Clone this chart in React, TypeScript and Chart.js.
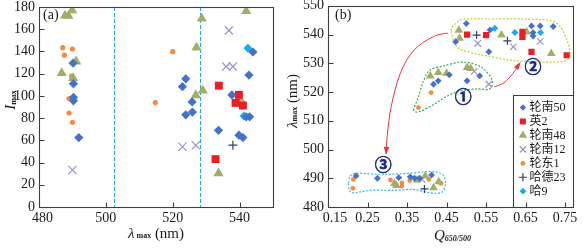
import React, { useEffect, useRef } from 'react';
import { Chart, registerables } from 'chart.js';
Chart.register(...registerables);

type Pt = [number, number];

// ---------------- Panel (a): λmax (nm) vs Imax ----------------
const A_X_TICKS = [480, 500, 520, 540];
const A_Y_TICKS = [0, 20, 40, 60, 80, 100, 120, 140, 160, 180];
const A_DASHED_X = [502.3, 528.2];

const A_LN50: Pt[] = [[490.2, 129.4], [490.3, 111], [490.3, 98.6], [490.3, 95.6], [491.9, 62.5], [523.9, 115.4], [522.9, 108.3], [525.8, 94.6], [525.9, 85.4], [523.9, 83], [537.7, 100.9], [542.8, 118.7], [544, 139.5], [533.7, 69], [539.8, 64.6], [541, 62.5], [542, 81.2], [543, 81.2]];
const A_Y2: Pt[] = [[533.8, 109.2], [539.8, 100.9], [538.8, 93.7], [541, 91.3], [532.8, 43.1]];
const A_LN48: Pt[] = [[487.8, 172.3], [488.8, 172], [489.9, 177], [491.1, 131], [486.8, 120.5], [490.2, 116], [528.7, 169.6], [527.1, 143.4], [529, 104.7], [526.9, 100.6], [542, 176.4], [540.3, 96.1], [533.7, 30.3]];
const A_LN12: Pt[] = [[490, 33.3], [522.9, 54.2], [526.9, 55.6], [536.8, 158.9], [536, 126.4], [538, 126.4]];
const A_LD1: Pt[] = [[487.1, 143.4], [490, 142.2], [487.6, 136.6], [489.7, 117.8], [489, 97.6], [489, 84.5], [490, 76.2], [514.8, 94], [520, 139.8]];
const A_HD23: Pt[] = [[538, 55.6]];
const A_H9: Pt[] = [[542.5, 142.8], [540.8, 93.7], [541.3, 81.8]];

// ---------------- Panel (b): Q650/500 vs λmax ----------------
const B_X_TICKS = [0.15, 0.25, 0.35, 0.45, 0.55, 0.65, 0.75];
const B_Y_TICKS = [480, 490, 500, 510, 520, 530, 540, 550];

const B_LN50: Pt[] = [[0.5, 543.8], [0.473, 537.5], [0.56, 541.6], [0.557, 534], [0.665, 543], [0.687, 543], [0.72, 542.8], [0.669, 540.7], [0.669, 539.5],
  [0.417, 522.7], [0.429, 523.9], [0.457, 526], [0.502, 523.9], [0.534, 525.6],
  [0.221, 490.8], [0.275, 490], [0.329, 490.2], [0.358, 490.5], [0.369, 490], [0.382, 490], [0.412, 491.1]];
const B_Y2: Pt[] = [[0.502, 540], [0.55, 539.8], [0.642, 540.9], [0.642, 539.2], [0.665, 534], [0.754, 532.8]];
const B_LN48: Pt[] = [[0.481, 541.5], [0.483, 538.7], [0.589, 539.8], [0.653, 540.9], [0.715, 533.4],
  [0.409, 525.6], [0.429, 526.8], [0.45, 526.5], [0.502, 528.5], [0.511, 528.2],
  [0.318, 488.2], [0.323, 487.5], [0.375, 489.4], [0.396, 490.8], [0.417, 486.7], [0.43, 488.8]];
const B_LN12: Pt[] = [[0.529, 536.9], [0.619, 535.7], [0.687, 537.6], [0.52, 527.2], [0.557, 522.7], [0.388, 489.6]];
const B_LD1: Pt[] = [[0.411, 519.8], [0.379, 514.6], [0.214, 489.6], [0.213, 486.5], [0.308, 489.4], [0.337, 488.4], [0.337, 487.3], [0.357, 489.2], [0.405, 489.6], [0.436, 488.2]];
const B_HD23: Pt[] = [[0.526, 539.8], [0.604, 537.8], [0.394, 486.3]];
const B_H9: Pt[] = [[0.572, 542.2], [0.623, 540.7], [0.688, 540.7]];

// group outlines (data coordinates)
const B_GROUP2: Pt[] = [[0.462, 541.3], [0.473, 543.8], [0.494, 545.4], [0.56, 545.4], [0.646, 545.4], [0.714, 544.8], [0.738, 542.6], [0.752, 539], [0.762, 534.9], [0.762, 532.2], [0.745, 530.7], [0.705, 530.4], [0.646, 530.7], [0.604, 531.2], [0.553, 532.6], [0.515, 533.6], [0.477, 535.6]];
const B_GROUP1: Pt[] = [[0.367, 513.6], [0.378, 518], [0.392, 523.9], [0.408, 527.6], [0.443, 529.1], [0.485, 530.4], [0.519, 529.8], [0.546, 527.8], [0.566, 523.9], [0.558, 521], [0.528, 521.1], [0.485, 520.4], [0.452, 518.6], [0.418, 515.7], [0.384, 513.3]];
const B_GROUP3: Pt[] = [[0.202, 488.4], [0.214, 491.6], [0.274, 491.4], [0.341, 491.6], [0.409, 492.3], [0.439, 491.4], [0.447, 488.4], [0.439, 485.2], [0.409, 484.9], [0.367, 486.1], [0.316, 485.8], [0.257, 485.8], [0.214, 484.9], [0.204, 486.1]];
const B_ARROW1: Pt[] = [[0.454, 540.5], [0.417, 539.3], [0.367, 534.5], [0.333, 526.5], [0.31, 515], [0.3, 505], [0.297, 498.5]];
const B_ARROW2: Pt[] = [[0.571, 521.8], [0.595, 523.2], [0.618, 526.5], [0.636, 530.2]];
const B_GROUP_LABELS = ['①', '②', '③'];
const B_GROUP_LABEL_POS: Pt[] = [[0.492, 518.4], [0.669, 528.9], [0.29, 494.8]];

const SERIES_NAMES = ['轮南50', '英2', '轮南48', '轮南12', '轮东1', '哈德23', '哈9'];
const A_SERIES = [A_LN50, A_Y2, A_LN48, A_LN12, A_LD1, A_HD23, A_H9];
const B_SERIES = [B_LN50, B_Y2, B_LN48, B_LN12, B_LD1, B_HD23, B_H9];

// ---------------- styles ----------------
const MARKERS = [
  { style: 'rectRot', color: '#4472C4', line: false },
  { style: 'rect', color: '#EE1C25', line: false },
  { style: 'triangle', color: '#9EAF6A', line: false },
  { style: 'crossRot', color: '#9C8FCC', line: true },
  { style: 'circle', color: '#F58A42', line: false },
  { style: 'cross', color: '#2F3F6F', line: true },
  { style: 'rectRot', color: '#14AEEF', line: false },
];
const A_RADII = [4.6, 5.6, 5.9, 5.8, 2.6, 4.5, 4.5];
const B_RADII = [3.4, 4.4, 5.0, 4.6, 2.4, 4.0, 3.5];
const LEGEND_RADII = [3.2, 4.2, 4.8, 4.4, 2.4, 4.0, 3.4];

const SERIF = '"Liberation Serif", "Times New Roman", serif';
const CJK = '"Liberation Serif", "Noto Sans CJK SC", serif';
const TEXT = '#1a1a1a';
const FRAME = '#3f3f3f';

type Part = { t: string; font: string; dy?: number };

function drawRich(ctx: CanvasRenderingContext2D, parts: Part[], cx: number, baseY: number, rotate: boolean) {
  ctx.save();
  ctx.translate(cx, baseY);
  if (rotate) ctx.rotate(-Math.PI / 2);
  let w = 0;
  for (const p of parts) { ctx.font = p.font; w += ctx.measureText(p.t).width; }
  let x = -w / 2;
  ctx.textBaseline = 'alphabetic';
  ctx.textAlign = 'left';
  ctx.fillStyle = TEXT;
  for (const p of parts) {
    ctx.font = p.font;
    ctx.fillText(p.t, x, p.dy || 0);
    x += ctx.measureText(p.t).width;
  }
  ctx.restore();
}

function drawMarker(ctx: CanvasRenderingContext2D, style: string, x: number, y: number, r: number, color: string, line: boolean) {
  ctx.beginPath();
  switch (style) {
    case 'rectRot':
      ctx.moveTo(x - r, y); ctx.lineTo(x, y - r); ctx.lineTo(x + r, y); ctx.lineTo(x, y + r); ctx.closePath(); break;
    case 'rect': { const s = r * Math.SQRT1_2; ctx.rect(x - s, y - s, 2 * s, 2 * s); break; }
    case 'triangle':
      ctx.moveTo(x, y - r); ctx.lineTo(x + 0.866 * r, y + 0.5 * r); ctx.lineTo(x - 0.866 * r, y + 0.5 * r); ctx.closePath(); break;
    case 'crossRot': { const d = r * Math.SQRT1_2; ctx.moveTo(x - d, y - d); ctx.lineTo(x + d, y + d); ctx.moveTo(x + d, y - d); ctx.lineTo(x - d, y + d); break; }
    case 'cross':
      ctx.moveTo(x - r, y); ctx.lineTo(x + r, y); ctx.moveTo(x, y - r); ctx.lineTo(x, y + r); break;
    default:
      ctx.arc(x, y, r, 0, Math.PI * 2);
  }
  if (line) { ctx.strokeStyle = color; ctx.lineWidth = 1.2; ctx.stroke(); }
  else { ctx.fillStyle = color; ctx.fill(); }
}

function splinePath(ctx: CanvasRenderingContext2D, pts: Pt[], closed: boolean) {
  const n = pts.length;
  const get = (i: number) => (closed ? pts[((i % n) + n) % n] : pts[Math.max(0, Math.min(n - 1, i))]);
  ctx.moveTo(pts[0][0], pts[0][1]);
  const segs = closed ? n : n - 1;
  for (let i = 0; i < segs; i++) {
    const p0 = get(i - 1), p1 = get(i), p2 = get(i + 1), p3 = get(i + 2);
    ctx.bezierCurveTo(
      p1[0] + (p2[0] - p0[0]) / 6, p1[1] + (p2[1] - p0[1]) / 6,
      p2[0] - (p3[0] - p1[0]) / 6, p2[1] - (p3[1] - p1[1]) / 6,
      p2[0], p2[1]);
  }
  if (closed) ctx.closePath();
}

function toPx(chart: any, pts: Pt[]): Pt[] {
  const xs = chart.scales.x, ys = chart.scales.y;
  return pts.map(([x, y]) => [xs.getPixelForValue(x), ys.getPixelForValue(y)] as Pt);
}

function drawFrameAndTicks(chart: any) {
  const ctx: CanvasRenderingContext2D = chart.ctx;
  const { left, right, top, bottom } = chart.chartArea;
  const L = Math.round(left) + 0.5, R = Math.round(right) + 0.5, T = Math.round(top) + 0.5, B = Math.round(bottom) + 0.5;
  ctx.save();
  ctx.strokeStyle = FRAME;
  ctx.lineWidth = 1.1;
  ctx.strokeRect(L, T, R - L, B - T);
  ctx.beginPath();
  for (const t of chart.scales.x.ticks) {
    const px = Math.round(chart.scales.x.getPixelForValue(t.value)) + 0.5;
    ctx.moveTo(px, B); ctx.lineTo(px, B - 5);
  }
  for (const t of chart.scales.y.ticks) {
    const py = Math.round(chart.scales.y.getPixelForValue(t.value)) + 0.5;
    ctx.moveTo(L, py); ctx.lineTo(L + 5, py);
  }
  ctx.stroke();
  ctx.restore();
}

function datasets(series: Pt[][], radii: number[]) {
  return series.map((pts, i) => {
    const m = MARKERS[i];
    return {
      label: SERIES_NAMES[i],
      data: pts.map(([x, y]) => ({ x, y })),
      pointStyle: m.style,
      pointRadius: radii[i],
      pointHoverRadius: radii[i],
      backgroundColor: m.line ? 'rgba(0,0,0,0)' : m.color,
      borderColor: m.color,
      borderWidth: m.line ? 1.2 : 0,
      showLine: false,
    };
  });
}

function axes(xMin: number, xMax: number, xTicks: number[], xLabel: (v: number) => string, yMin: number, yMax: number, yTicks: number[], yWidth: number) {
  const tickFont = { family: SERIF, size: 14 };
  return {
    x: {
      type: 'linear', min: xMin, max: xMax,
      afterBuildTicks: (s: any) => { s.ticks = xTicks.map((v) => ({ value: v })); },
      afterFit: (s: any) => { s.height = 43; s.paddingLeft = 0; s.paddingRight = 0; },
      grid: { display: false, drawTicks: false }, border: { display: false },
      ticks: { font: tickFont, color: TEXT, padding: 3, maxRotation: 0, autoSkip: false, callback: (v: any) => xLabel(Number(v)) },
    },
    y: {
      type: 'linear', min: yMin, max: yMax,
      afterBuildTicks: (s: any) => { s.ticks = yTicks.map((v) => ({ value: v })); },
      afterFit: (s: any) => { s.width = yWidth; s.paddingTop = 0; s.paddingBottom = 0; },
      grid: { display: false, drawTicks: false }, border: { display: false },
      ticks: { font: tickFont, color: TEXT, padding: 4, autoSkip: false, callback: (v: any) => String(v) },
    },
  };
}

function configA(): any {
  const deco = {
    id: 'decoA',
    beforeDatasetsDraw(chart: any) {
      const ctx: CanvasRenderingContext2D = chart.ctx;
      const { top, bottom } = chart.chartArea;
      ctx.save();
      ctx.strokeStyle = '#22A6E6';
      ctx.lineWidth = 1;
      ctx.setLineDash([4, 2]);
      for (const v of A_DASHED_X) {
        const px = Math.round(chart.scales.x.getPixelForValue(v)) + 0.5;
        ctx.beginPath(); ctx.moveTo(px, top); ctx.lineTo(px, bottom); ctx.stroke();
      }
      ctx.restore();
    },
    afterDraw(chart: any) {
      const ctx: CanvasRenderingContext2D = chart.ctx;
      drawFrameAndTicks(chart);
      ctx.save();
      ctx.font = `14px ${SERIF}`; ctx.fillStyle = TEXT; ctx.textBaseline = 'middle'; ctx.textAlign = 'left';
      ctx.fillText('(a)', chart.chartArea.left + 4, 15);
      ctx.restore();
      const cx = (chart.chartArea.left + chart.chartArea.right) / 2;
      drawRich(ctx, [
        { t: 'λ', font: `italic 15px ${SERIF}` },
        { t: ' max', font: `bold 8px ${SERIF}` },
        { t: ' (nm)', font: `15px ${SERIF}` },
      ], cx, 238, false);
      drawRich(ctx, [
        { t: 'I', font: `italic 15px ${SERIF}` },
        { t: 'max', font: `bold 8px ${SERIF}`, dy: 1 },
      ], 15, 100, true);
    },
  };
  return {
    type: 'scatter',
    data: { datasets: datasets(A_SERIES, A_RADII) },
    options: {
      responsive: false, animation: false,
      layout: { padding: { left: 0, right: 7, top: 5, bottom: 0 } },
      plugins: { legend: { display: false }, tooltip: { enabled: false } },
      scales: axes(480, 550, A_X_TICKS, (v) => (v === 480 ? '  480' : String(v)), 0, 180, A_Y_TICKS, 39),
    },
    plugins: [deco],
  };
}

function configB(): any {
  const deco = {
    id: 'decoB',
    beforeDatasetsDraw(chart: any) {
      const ctx: CanvasRenderingContext2D = chart.ctx;
      ctx.save();
      ctx.lineWidth = 1.2;
      ctx.setLineDash([2, 1.6]);
      const groups: [Pt[], string][] = [[B_GROUP2, '#B7D333'], [B_GROUP1, '#2FAE4A'], [B_GROUP3, '#2EB6EA']];
      for (const [g, col] of groups) {
        ctx.strokeStyle = col;
        ctx.beginPath(); splinePath(ctx, toPx(chart, g), true); ctx.stroke();
      }
      ctx.setLineDash([]);
      ctx.strokeStyle = '#F0323C'; ctx.fillStyle = '#F0323C'; ctx.lineWidth = 1;
      for (const a of [B_ARROW1, B_ARROW2]) {
        const p = toPx(chart, a);
        ctx.beginPath(); splinePath(ctx, p, false); ctx.stroke();
        const e = p[p.length - 1], s = p[p.length - 2];
        const ang = Math.atan2(e[1] - s[1], e[0] - s[0]);
        const len = 7, hw = 2.8;
        ctx.beginPath();
        ctx.moveTo(e[0] + Math.cos(ang) * 1, e[1] + Math.sin(ang) * 1);
        ctx.lineTo(e[0] - Math.cos(ang) * len - Math.sin(ang) * hw, e[1] - Math.sin(ang) * len + Math.cos(ang) * hw);
        ctx.lineTo(e[0] - Math.cos(ang) * len + Math.sin(ang) * hw, e[1] - Math.sin(ang) * len - Math.cos(ang) * hw);
        ctx.closePath(); ctx.fill();
      }
      ctx.font = `bold 17px "Noto Sans CJK SC", sans-serif`;
      ctx.fillStyle = '#1A2A8A'; ctx.strokeStyle = '#1A2A8A'; ctx.lineWidth = 0.6;
      ctx.textAlign = 'center'; ctx.textBaseline = 'middle';
      const lp = toPx(chart, B_GROUP_LABEL_POS);
      B_GROUP_LABELS.forEach((t, i) => { ctx.fillText(t, lp[i][0], lp[i][1]); ctx.strokeText(t, lp[i][0], lp[i][1]); });
      ctx.restore();
    },
    afterDraw(chart: any) {
      const ctx: CanvasRenderingContext2D = chart.ctx;
      const { left, right, bottom } = chart.chartArea;
      // legend box
      const bx = Math.round(left + 184.5) + 0.5, by = 95.5;
      ctx.save();
      ctx.fillStyle = '#fff';
      ctx.fillRect(bx, by, right - bx, bottom - by);
      ctx.strokeStyle = FRAME; ctx.lineWidth = 1.1;
      ctx.beginPath(); ctx.moveTo(bx, bottom); ctx.lineTo(bx, by); ctx.lineTo(right, by); ctx.stroke();
      SERIES_NAMES.forEach((name, i) => {
        const y = 107.5 + i * 13.95;
        const m = MARKERS[i];
        drawMarker(ctx, m.style, bx + 9.4, y, LEGEND_RADII[i], m.color, m.line);
        ctx.font = `12px ${CJK}`; ctx.fillStyle = TEXT; ctx.textAlign = 'left'; ctx.textBaseline = 'middle';
        ctx.fillText(name, bx + 16, y + 0.5);
      });
      ctx.restore();
      drawFrameAndTicks(chart);
      ctx.save();
      ctx.font = `14px ${SERIF}`; ctx.fillStyle = TEXT; ctx.textBaseline = 'middle'; ctx.textAlign = 'left';
      ctx.fillText('(b)', left + 7, 15);
      ctx.restore();
      const cx = (left + right) / 2 + 2;
      drawRich(ctx, [
        { t: 'Q', font: `italic 15px ${SERIF}` },
        { t: '650/500', font: `italic bold 8px ${SERIF}`, dy: 1 },
      ], cx, 240, false);
      drawRich(ctx, [
        { t: 'λ', font: `italic 15px ${SERIF}` },
        { t: 'max', font: `bold 8px ${SERIF}` },
        { t: ' (nm)', font: `15px ${SERIF}` },
      ], 17, 101, true);
    },
  };
  return {
    type: 'scatter',
    data: { datasets: datasets(B_SERIES, B_RADII) },
    options: {
      responsive: false, animation: false,
      layout: { padding: { left: 0, right: 11, top: 5, bottom: 0 } },
      plugins: { legend: { display: false }, tooltip: { enabled: false } },
      scales: axes(0.15, 0.77, B_X_TICKS, (v) => (Math.abs(v - 0.15) < 1e-6 ? '    0.15' : v.toFixed(2)), 480, 550, B_Y_TICKS, 48),
    },
    plugins: [deco],
  };
}

export default function App() {
  const aRef = useRef<HTMLCanvasElement>(null);
  const bRef = useRef<HTMLCanvasElement>(null);
  useEffect(() => {
    const ca = new Chart(aRef.current as HTMLCanvasElement, configA());
    const cb = new Chart(bRef.current as HTMLCanvasElement, configB());
    return () => { ca.destroy(); cb.destroy(); };
  }, []);
  return (
    <div style={{ position: 'fixed', left: 0, top: 0, width: 584, height: 250, background: '#fff' }}>
      <canvas ref={aRef} width={280} height={250} style={{ position: 'absolute', left: 0, top: 0, width: 280, height: 250 }} />
      <canvas ref={bRef} width={304} height={250} style={{ position: 'absolute', left: 280, top: 0, width: 304, height: 250 }} />
    </div>
  );
}
